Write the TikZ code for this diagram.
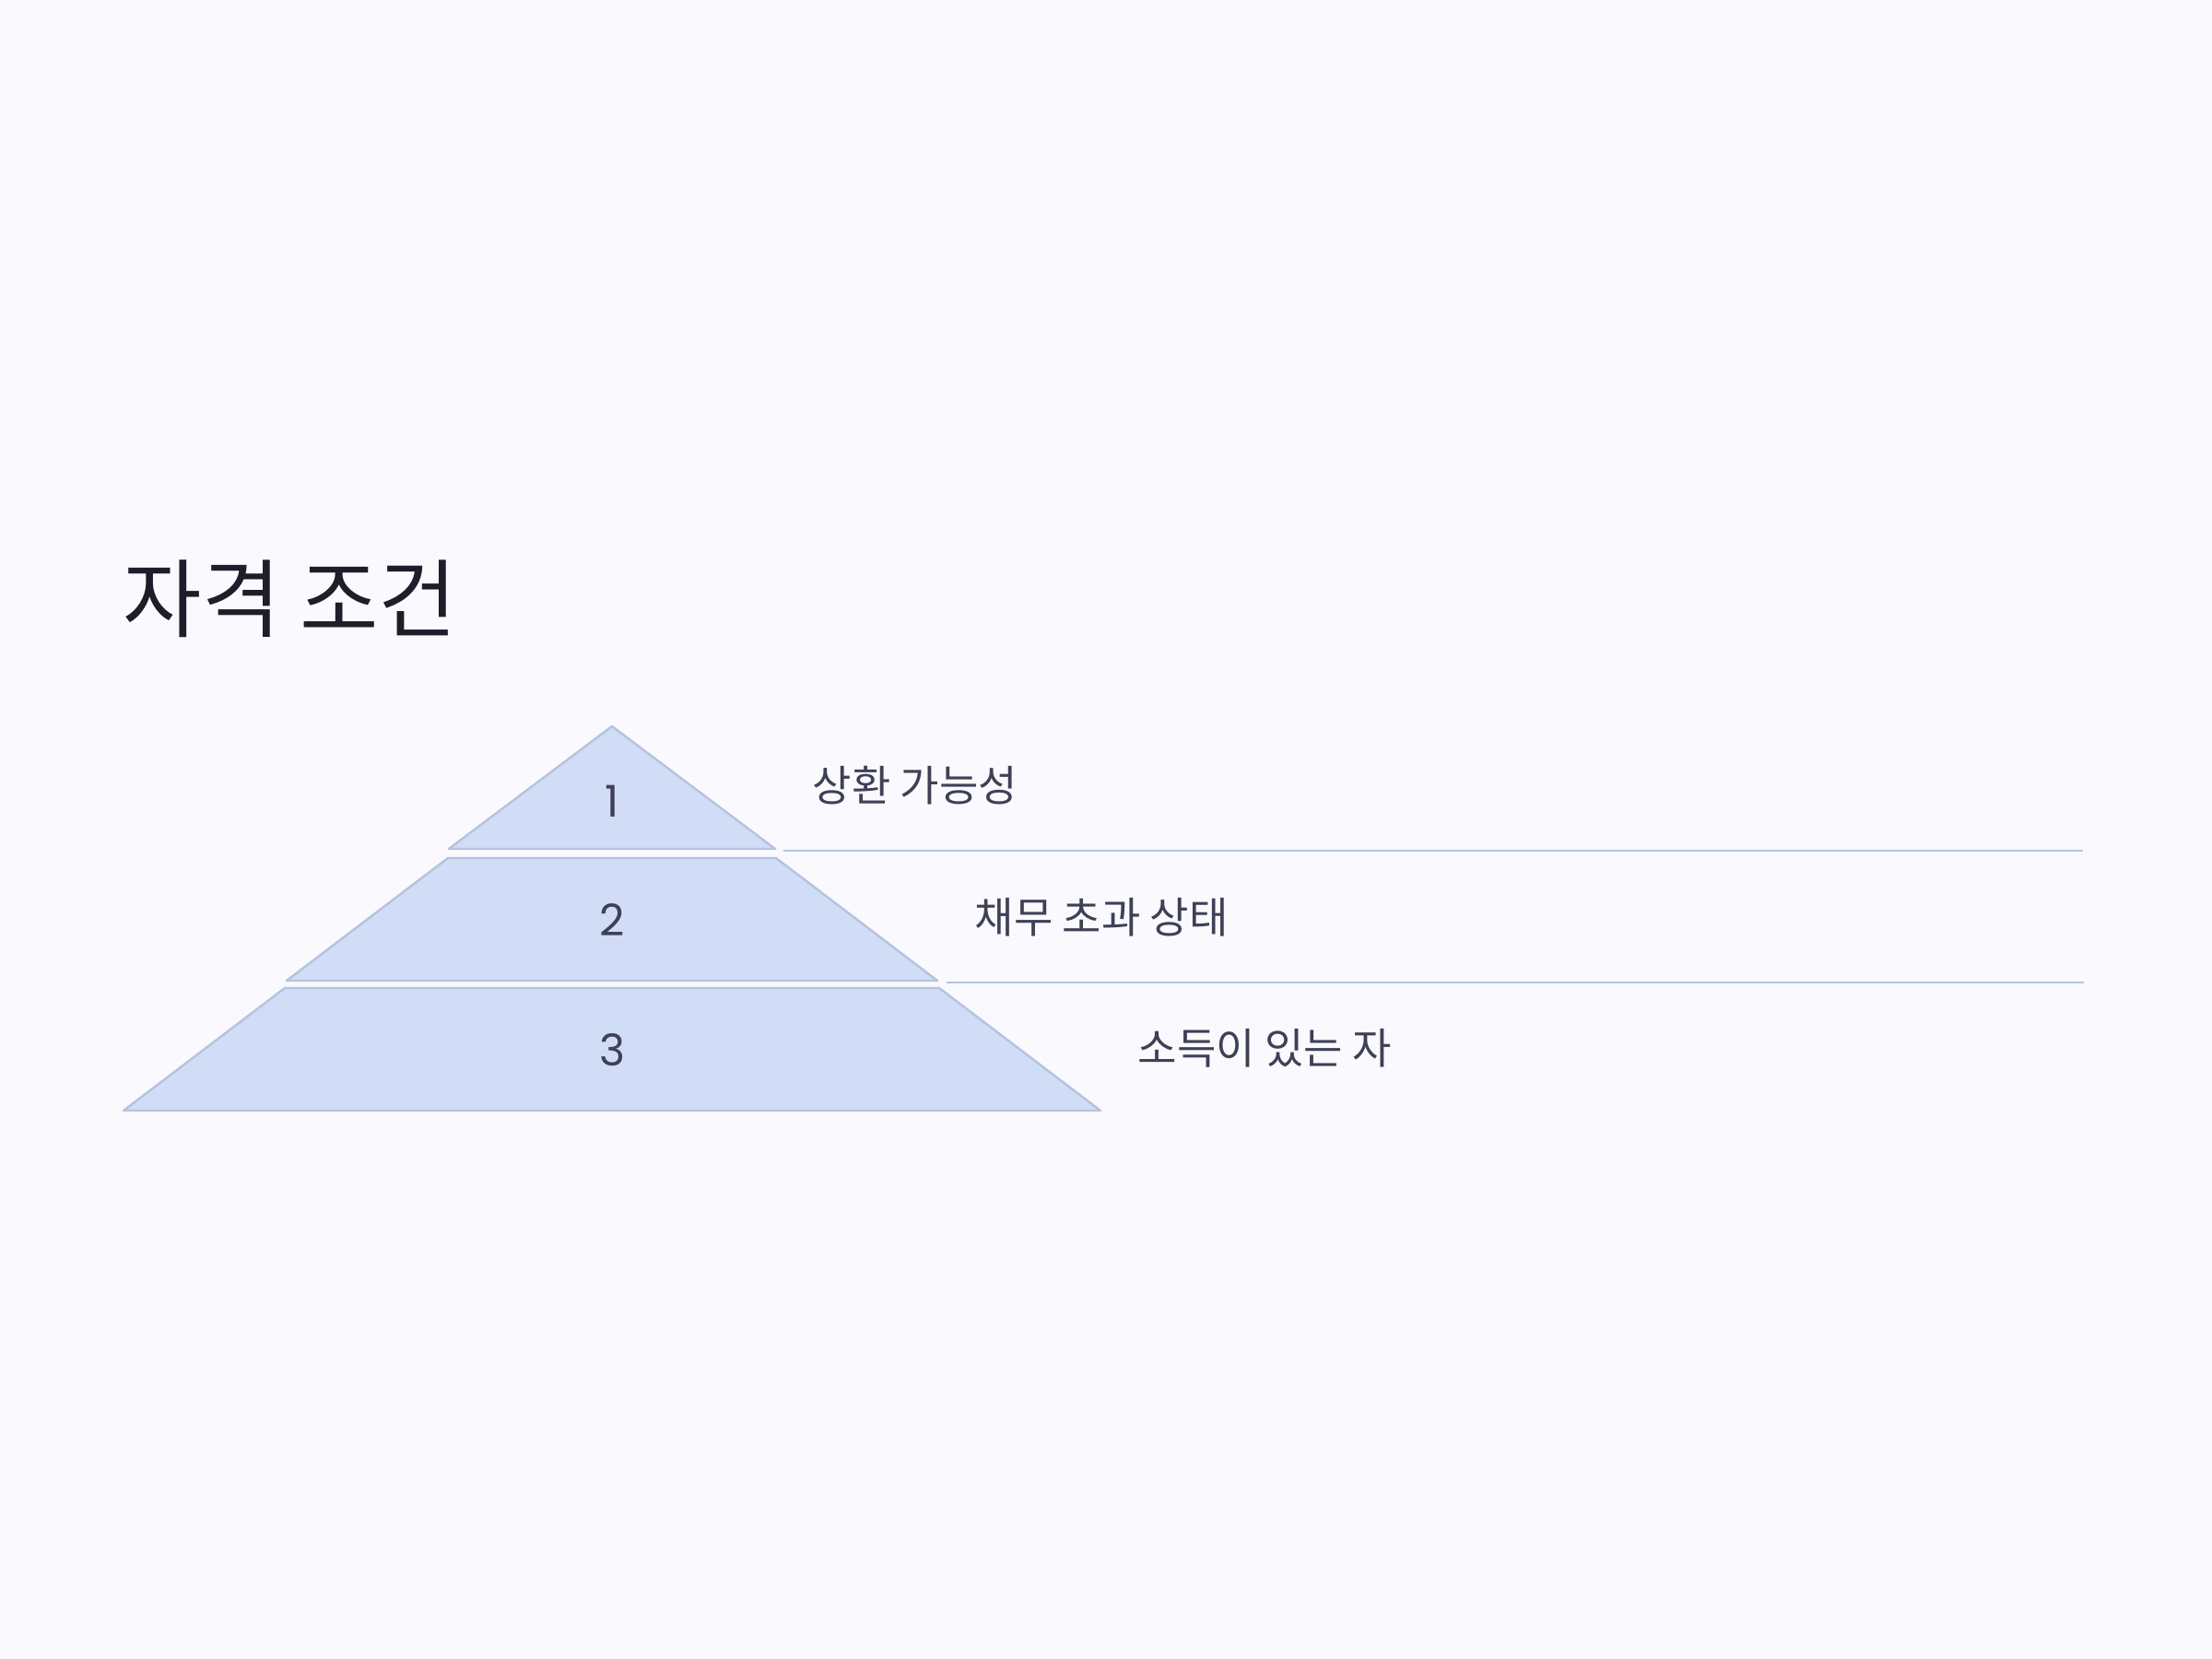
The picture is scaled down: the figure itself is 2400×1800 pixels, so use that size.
\documentclass[tikz,border=0pt]{standalone}
\usepackage{fontspec}
\setmainfont{Noto Sans CJK KR}
\newfontfamily\numfont{Poppins}
\usepackage{tikz}
\usetikzlibrary{positioning,calc}

\definecolor{bgcol}{RGB}{249,249,254}
\definecolor{tierfill}{RGB}{209,221,246}
\definecolor{tierline}{RGB}{182,195,222}
\definecolor{titlecol}{RGB}{30,30,42}
\definecolor{labelcol}{RGB}{62,64,86}

\begin{document}
\begin{tikzpicture}[x=0.01cm, y=-0.01cm,
    tier/.style={fill=tierfill, draw=tierline, line width=0.7pt, line join=round},
    rule/.style={draw=tierline, line width=0.7pt},
    num/.style={text=labelcol, inner sep=0, font=\numfont\fontsize{13.5}{15}\selectfont},
    lbl/.style={text=labelcol, inner sep=0, anchor=west, font=\fontsize{13.1}{15}\selectfont}]

    % Page
    \fill [bgcol] (0, 0) rectangle (2400, 1800);
    \useasboundingbox (0, 0) rectangle (2400, 1800);

    % Title
    \node [anchor=west, inner sep=0, text=titlecol, font=\fontsize{26.4}{32}\selectfont] (title) at (133, 650) {자격 조건};

    % Tiers
    \draw [tier] (664, 788) -- (841, 921) -- (487, 921) -- cycle;
    \draw [tier] (486, 931) -- (842, 931) -- (1017, 1064) -- (311, 1064) -- cycle;
    \draw [tier] (309, 1072) -- (1019, 1072) -- (1194, 1205) -- (134, 1205) -- cycle;

    % Numbers
    \node [num] (n1) at (664, 869) {1};
    \node [num] (n2) at (664, 998) {2};
    \node [num] (n3) at (664, 1139) {3};

    % Labels
    \node [lbl] (l1) at (881, 852) {상환 가능성};
    \node [lbl] (l2) at (1057, 995) {채무 초과 상태};
    \node [lbl] (l3) at (1234, 1137) {소득이 있는 자};

    % Rules
    \coordinate (r1a) at (850, 923);
    \coordinate (r1b) at (2260, 923);
    \coordinate (r2a) at (1027, 1066);
    \coordinate (r2b) at (2261, 1066);
    \draw [rule] (r1a) -- (r1b);
    \draw [rule] (r2a) -- (r2b);
\end{tikzpicture}
\end{document}
